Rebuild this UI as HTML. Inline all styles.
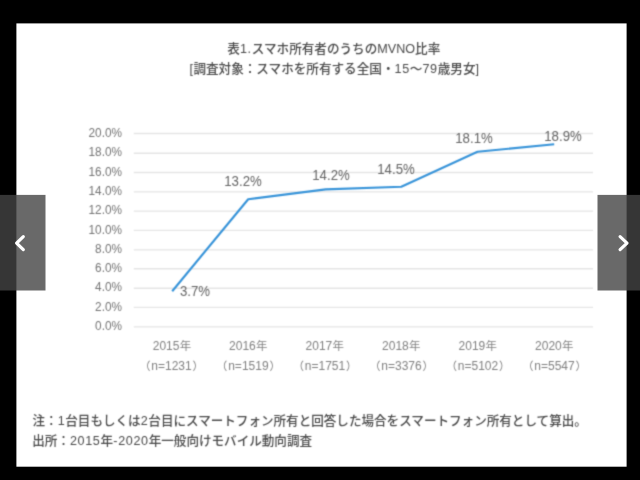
<!DOCTYPE html>
<html lang="ja">
<head>
<meta charset="utf-8">
<title>表1.スマホ所有者のうちのMVNO比率</title>
<style>
html,body{margin:0;padding:0;background:#000;}
body{width:640px;height:480px;overflow:hidden;position:relative;
  font-family:"Liberation Sans","Noto Sans CJK JP",sans-serif;}
#panel{position:absolute;left:0;top:0;}
#content{position:absolute;left:0;top:0;width:640px;height:480px;filter:url(#soft);}
.t{position:absolute;white-space:nowrap;line-height:1;}
.title{font-size:12.6px;font-weight:500;color:#4a4a4a;transform:translate(-50%,-50%);}
.note{font-size:12.57px;font-weight:500;color:#4a4a4a;transform:translateY(-50%);}
.yl{font-size:12.8px;color:#757575;text-align:right;width:60px;left:62.2px;transform-origin:100% 50%;transform:translateY(-50%) scaleX(0.922);}
.xl{font-size:12px;color:#818181;transform:translate(-50%,-50%);}
.n{letter-spacing:0.65px;}.b{letter-spacing:0.5px;}.h{margin:0 0.7px 0 0.3px;}
.pl{margin-right:0.9px;}.pr{margin-left:0.9px;}.pl,.pr{font-size:11px;}.y{font-size:11.4px;letter-spacing:0.5px;margin-left:0.3px;}
.dl{font-size:14.8px;color:#666;transform:translate(-50%,-50%) scaleX(0.895);}
svg{position:absolute;left:0;top:0;}
</style>
</head>
<body>
<svg width="0" height="0" style="position:absolute">
  <filter id="soft" x="0" y="0" width="100%" height="100%" color-interpolation-filters="sRGB">
    <feConvolveMatrix order="3" kernelMatrix="0.062 0.249 0.062 0.249 1 0.249 0.062 0.249 0.062" divisor="2.244" edgeMode="duplicate" preserveAlpha="false"/>
  </filter>
</svg>
<svg id="panel" width="640" height="480" viewBox="0 0 640 480"><rect x="16.4" y="23.4" width="610.2" height="443.3" fill="#fff"/></svg>
<div id="content">
  <div class="t title" style="left:333.8px;top:48.8px;">表<span class="n">1.</span>スマホ所有者のうちのMVNO比率</div>
  <div class="t title" style="left:334.2px;top:68.5px;"><span class="b">[</span>調査対象：スマホを所有する全国・<span class="n">15</span>～<span class="n">79</span>歳男女]</div>

  <svg width="640" height="480" viewBox="0 0 640 480">
    <g stroke="#e5e5e5" stroke-width="1.35" fill="none">
      <line x1="133.8" x2="593" y1="133.5" y2="133.5"/>
      <line x1="133.8" x2="593" y1="153.2" y2="153.2"/>
      <line x1="133.8" x2="593" y1="172.5" y2="172.5"/>
      <line x1="133.8" x2="593" y1="191.8" y2="191.8"/>
      <line x1="133.8" x2="593" y1="211.1" y2="211.1"/>
      <line x1="133.8" x2="593" y1="230.3" y2="230.3"/>
      <line x1="133.8" x2="593" y1="249.8" y2="249.8"/>
      <line x1="133.8" x2="593" y1="268.7" y2="268.7"/>
      <line x1="133.8" x2="593" y1="288.2" y2="288.2"/>
      <line x1="133.8" x2="593" y1="307.4" y2="307.4"/>
      <line x1="133.8" x2="593" y1="326.8" y2="326.8"/>
    </g>
    <polyline points="172.2,291.2 248.2,199.2 325.6,189.4 401.3,186.8 477.5,151.8 554.2,144.3"
      fill="none" stroke="#3894d9" stroke-width="2.15" stroke-linejoin="round" stroke-linecap="butt"/>
  </svg>

  <div class="t yl" style="top:132.7px;">20.0%</div>
  <div class="t yl" style="top:152.4px;">18.0%</div>
  <div class="t yl" style="top:171.7px;">16.0%</div>
  <div class="t yl" style="top:191.0px;">14.0%</div>
  <div class="t yl" style="top:210.3px;">12.0%</div>
  <div class="t yl" style="top:229.5px;">10.0%</div>
  <div class="t yl" style="top:249.0px;">8.0%</div>
  <div class="t yl" style="top:267.9px;">6.0%</div>
  <div class="t yl" style="top:287.4px;">4.0%</div>
  <div class="t yl" style="top:306.6px;">2.0%</div>
  <div class="t yl" style="top:326.0px;">0.0%</div>

  <div class="t dl" style="left:194.7px;top:291.2px;">3.7%</div>
  <div class="t dl" style="left:242.8px;top:181.2px;">13.2%</div>
  <div class="t dl" style="left:330.7px;top:174.6px;">14.2%</div>
  <div class="t dl" style="left:396.3px;top:169.1px;">14.5%</div>
  <div class="t dl" style="left:473.5px;top:138.4px;">18.1%</div>
  <div class="t dl" style="left:563.2px;top:135.5px;">18.9%</div>

  <div class="t xl" style="left:172.2px;top:346px;">2015<span class="y">年</span></div>
  <div class="t xl" style="left:248.5px;top:346px;">2016<span class="y">年</span></div>
  <div class="t xl" style="left:325px;top:346px;">2017<span class="y">年</span></div>
  <div class="t xl" style="left:401.5px;top:346px;">2018<span class="y">年</span></div>
  <div class="t xl" style="left:478px;top:346px;">2019<span class="y">年</span></div>
  <div class="t xl" style="left:554.5px;top:346px;">2020<span class="y">年</span></div>

  <div class="t xl" style="left:171.5px;top:365.9px;"><span class="pl">（</span>n=1231<span class="pr">）</span></div>
  <div class="t xl" style="left:248.4px;top:365.9px;"><span class="pl">（</span>n=1519<span class="pr">）</span></div>
  <div class="t xl" style="left:325px;top:365.9px;"><span class="pl">（</span>n=1751<span class="pr">）</span></div>
  <div class="t xl" style="left:401.5px;top:365.9px;"><span class="pl">（</span>n=3376<span class="pr">）</span></div>
  <div class="t xl" style="left:478px;top:365.9px;"><span class="pl">（</span>n=5102<span class="pr">）</span></div>
  <div class="t xl" style="left:554.5px;top:365.9px;"><span class="pl">（</span>n=5547<span class="pr">）</span></div>

  <div class="t note" style="left:32.5px;top:420.8px;">注：<span class="n">1</span>台目もしくは<span class="n">2</span>台目にスマートフォン所有と回答した場合をスマートフォン所有として算出。</div>
  <div class="t note" style="left:32.2px;top:440.7px;">出所：<span class="n">2015</span>年<span class="h">-</span><span class="n">2020</span>年一般向けモバイル動向調査</div>
</div>

<svg width="640" height="480" viewBox="0 0 640 480">
  <rect x="0" y="194.9" width="45.5" height="95.6" fill="rgba(68,68,68,0.8)"/>
  <rect x="597.5" y="194.9" width="42.5" height="95.6" fill="rgba(68,68,68,0.8)"/>
  <g fill="none" stroke="#fff" stroke-width="3.2" stroke-linecap="round" stroke-linejoin="round">
    <polyline points="23.3,236.6 16.6,243.1 23.3,249.6"/>
    <polyline points="620.1,236.6 627,243.1 620.1,249.6"/>
  </g>
</svg>
</body>
</html>
